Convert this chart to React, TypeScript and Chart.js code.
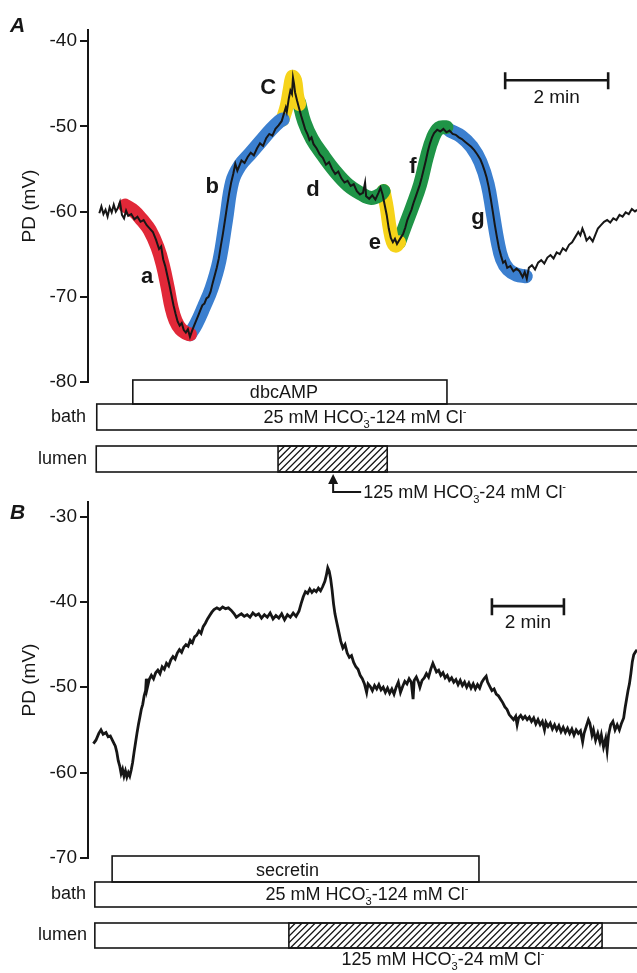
import React, { useEffect, useRef } from "react";
import { Chart, registerables } from "chart.js";
Chart.register(...registerables);

const FONT = '"Liberation Sans", Arial, Helvetica, sans-serif';
const INK = "#161616";

type Pt = [number, number];

// ---------- Panel A (time in min, PD in mV) ----------
const yTicksA = [-80, -70, -60, -50, -40];
const traceA: Pt[] = [
  [0.22,-60.2],[0.26,-59.4],[0.30,-60.3],[0.34,-59.8],[0.38,-60.6],[0.42,-59.5],[0.46,-60.1],[0.50,-59.2],[0.54,-60.0],[0.58,-59.6],
  [0.62,-58.9],[0.66,-60.4],[0.70,-60.8],[0.74,-59.9],[0.78,-60.5],[0.84,-60.3],[0.90,-60.9],[0.96,-60.6],[1.02,-61.2],[1.08,-61.0],
  [1.14,-61.6],[1.20,-62.0],[1.26,-62.4],[1.32,-63.3],[1.38,-64.4],[1.42,-64.1],[1.46,-65.6],[1.50,-66.4],[1.54,-67.5],[1.58,-68.6],
  [1.62,-69.8],[1.66,-71.0],[1.70,-72.0],[1.74,-72.9],[1.78,-73.4],[1.82,-73.1],[1.86,-73.9],[1.90,-74.2],[1.94,-73.8],[1.98,-74.7],
  [2.02,-74.0],[2.06,-73.4],[2.10,-72.8],[2.14,-72.2],[2.18,-71.6],[2.22,-71.0],[2.26,-70.8],[2.30,-70.2],[2.34,-70.0],[2.38,-69.4],
  [2.42,-68.4],[2.46,-67.5],[2.50,-66.6],[2.54,-65.5],[2.58,-64.0],[2.62,-62.6],[2.66,-61.0],[2.70,-59.4],[2.74,-57.9],[2.78,-56.6],
  [2.82,-55.6],[2.86,-54.4],[2.90,-55.2],[2.94,-54.6],[2.98,-54.0],[3.04,-54.3],[3.10,-53.6],[3.16,-53.1],[3.22,-53.4],[3.28,-52.6],
  [3.34,-52.0],[3.40,-52.3],[3.46,-51.4],[3.52,-50.9],[3.58,-51.1],[3.64,-50.3],[3.70,-49.9],[3.76,-49.4],[3.80,-48.6],[3.84,-47.8],
  [3.86,-48.3],[3.90,-46.7],[3.93,-45.8],[3.96,-46.2],[3.98,-44.3],[4.00,-45.0],[4.02,-46.0],[4.06,-47.0],[4.10,-47.9],[4.14,-48.8],
  [4.18,-49.6],[4.22,-50.4],[4.26,-50.9],[4.30,-51.6],[4.34,-51.3],[4.38,-52.1],[4.44,-52.6],[4.50,-53.3],[4.56,-53.7],[4.62,-54.5],
  [4.68,-54.2],[4.74,-55.0],[4.80,-55.6],[4.86,-55.3],[4.92,-56.1],[4.98,-56.6],[5.04,-56.4],[5.10,-57.0],[5.16,-56.8],[5.22,-57.6],
  [5.28,-58.0],[5.34,-57.8],[5.38,-56.6],[5.40,-58.2],[5.46,-58.5],[5.52,-58.1],[5.58,-58.6],[5.64,-57.8],[5.68,-57.2],[5.72,-58.0],
  [5.76,-59.2],[5.80,-60.4],[5.84,-62.0],[5.88,-63.1],[5.92,-63.6],[5.96,-63.2],[6.00,-63.8],[6.04,-63.4],[6.08,-63.0],[6.12,-62.6],
  [6.16,-61.9],[6.20,-61.0],[6.24,-60.4],[6.28,-59.8],[6.32,-59.0],[6.36,-58.3],[6.40,-57.6],[6.44,-56.9],[6.48,-56.0],[6.52,-55.0],
  [6.56,-54.0],[6.60,-52.9],[6.64,-52.0],[6.68,-51.3],[6.72,-50.8],[6.78,-50.4],[6.84,-50.6],[6.90,-50.3],[6.96,-50.7],[7.02,-50.5],
  [7.08,-50.9],[7.14,-51.0],[7.20,-51.3],[7.26,-51.5],[7.32,-51.8],[7.38,-52.1],[7.44,-52.4],[7.50,-52.8],[7.56,-53.3],[7.62,-53.9],
  [7.66,-54.5],[7.70,-55.2],[7.74,-56.0],[7.78,-57.1],[7.82,-58.5],[7.86,-60.0],[7.90,-61.6],[7.94,-63.0],[7.98,-64.3],[8.02,-65.2],
  [8.06,-66.0],[8.10,-65.8],[8.14,-66.6],[8.20,-66.4],[8.26,-67.0],[8.32,-66.7],[8.38,-67.0],[8.44,-67.7],[8.48,-67.1],[8.52,-67.9],
  [8.56,-66.6],[8.62,-66.3],[8.68,-66.8],[8.74,-66.0],[8.80,-65.7],[8.86,-66.1],[8.92,-65.4],[8.98,-65.1],[9.04,-65.5],[9.10,-64.8],
  [9.16,-65.0],[9.22,-64.3],[9.28,-64.6],[9.34,-63.9],[9.40,-63.6],[9.46,-63.0],[9.52,-62.4],[9.56,-62.8],[9.60,-62.0],[9.64,-62.6],
  [9.68,-63.4],[9.74,-63.0],[9.80,-63.5],[9.86,-62.6],[9.90,-62.0],[9.96,-61.6],[10.02,-61.2],[10.08,-61.0],[10.14,-61.3],[10.20,-60.8],
  [10.26,-61.0],[10.32,-60.4],[10.38,-60.6],[10.44,-60.1],[10.50,-60.3],[10.56,-59.7],[10.62,-60.0],[10.66,-59.8]
];

// highlighted phases of trace A
const phaseA_a: Pt[] = [[0.72,-59.3],[0.90,-60.0],[1.05,-61.0],[1.20,-62.2],[1.35,-64.2],[1.45,-66.2],[1.55,-69.0],[1.62,-71.2],[1.70,-72.8],[1.80,-73.8],[1.92,-74.3],[1.98,-74.4]];
const phaseA_b: Pt[] = [[1.98,-74.4],[2.10,-73.2],[2.25,-71.2],[2.40,-69.0],[2.55,-65.8],[2.68,-61.0],[2.80,-56.5],[2.95,-54.6],[3.15,-53.2],[3.35,-51.8],[3.55,-50.4],[3.72,-49.4],[3.78,-49.2]];
const phaseA_c: Pt[] = [[3.78,-49.2],[3.86,-47.6],[3.92,-45.6],[3.97,-44.2],[4.02,-44.6],[4.06,-46.4],[4.10,-47.4]];
const phaseA_d: Pt[] = [[4.10,-47.2],[4.20,-49.5],[4.35,-51.5],[4.55,-53.3],[4.80,-55.3],[5.05,-56.9],[5.30,-57.9],[5.50,-58.4],[5.68,-58.0],[5.74,-57.6]];
const phaseA_e: Pt[] = [[5.74,-57.6],[5.80,-59.5],[5.86,-62.0],[5.92,-63.6],[5.98,-64.0],[6.04,-63.6]];
const phaseA_f: Pt[] = [[6.04,-63.6],[6.15,-61.8],[6.30,-59.4],[6.45,-56.8],[6.58,-53.6],[6.70,-51.3],[6.82,-50.2],[6.96,-50.1]];
const phaseA_g: Pt[] = [[7.03,-50.5],[7.25,-51.2],[7.45,-52.4],[7.62,-54.2],[7.76,-56.8],[7.86,-60.2],[7.95,-63.4],[8.04,-65.6],[8.16,-66.8],[8.32,-67.4],[8.50,-67.6]];
const phaseLabelsA = ["a", "b", "C", "d", "e", "f", "g"];
const phaseLabelPosA: Pt[] = [[1.15,-67.7],[2.41,-57.1],[3.50,-45.5],[4.37,-57.5],[5.57,-63.7],[6.31,-54.8],[7.57,-60.8]];
const scaleBarA: Pt[] = [[8.10,-44.6],[10.10,-44.6]];
const dbcAMPSpan = [0.87, 6.97];
const bathStartA = 0.17;
const lumenStartA = 0.16;
const hatchSpanA = [3.69, 5.81];
const arrowTimeA = 4.76;

// ---------- Panel B ----------
const yTicksB = [-70, -60, -50, -40, -30];
const traceB: Pt[] = [
  [0.15,-56.6],[0.22,-56.2],[0.30,-55.4],[0.36,-55.0],[0.42,-55.5],[0.50,-55.3],[0.56,-55.8],[0.62,-55.7],[0.70,-56.4],[0.76,-56.9],
  [0.80,-57.6],[0.84,-58.6],[0.88,-59.2],[0.92,-60.1],[0.96,-59.6],[1.00,-60.4],[1.04,-59.8],[1.08,-60.5],[1.12,-60.0],[1.16,-60.4],
  [1.20,-59.7],[1.24,-58.8],[1.28,-57.6],[1.32,-56.5],[1.36,-55.4],[1.40,-54.4],[1.44,-53.5],[1.48,-52.6],[1.52,-52.0],[1.56,-51.0],
  [1.60,-50.4],[1.62,-49.0],[1.64,-50.2],[1.70,-49.1],[1.76,-48.6],[1.82,-49.0],[1.88,-48.3],[1.94,-48.0],[2.00,-48.4],[2.06,-47.6],
  [2.12,-47.9],[2.18,-47.2],[2.24,-47.5],[2.30,-46.8],[2.36,-46.4],[2.42,-46.7],[2.48,-46.0],[2.54,-45.6],[2.60,-45.9],[2.66,-45.3],
  [2.72,-45.0],[2.78,-45.2],[2.84,-44.5],[2.90,-44.8],[2.96,-44.1],[3.02,-43.9],[3.08,-43.4],[3.14,-43.7],[3.20,-42.9],[3.26,-42.5],
  [3.32,-42.0],[3.38,-41.6],[3.44,-41.2],[3.50,-40.9],[3.58,-40.7],[3.66,-40.9],[3.74,-40.6],[3.82,-40.8],[3.90,-40.7],[3.98,-41.0],
  [4.06,-41.4],[4.12,-41.8],[4.18,-41.6],[4.26,-41.4],[4.34,-41.7],[4.42,-41.5],[4.50,-41.8],[4.58,-41.3],[4.66,-41.6],[4.74,-41.4],
  [4.82,-41.9],[4.90,-41.5],[4.98,-41.8],[5.06,-41.3],[5.14,-42.0],[5.22,-41.6],[5.30,-41.9],[5.38,-41.4],[5.46,-42.1],[5.54,-41.5],
  [5.62,-41.8],[5.70,-41.3],[5.78,-41.7],[5.86,-41.1],[5.92,-40.2],[5.98,-39.4],[6.04,-38.8],[6.10,-39.0],[6.16,-38.5],[6.22,-38.9],
  [6.28,-38.6],[6.34,-38.8],[6.40,-38.4],[6.46,-38.7],[6.52,-38.2],[6.58,-37.6],[6.62,-36.9],[6.66,-36.0],[6.70,-36.4],[6.74,-37.3],
  [6.78,-38.6],[6.82,-40.2],[6.86,-41.4],[6.90,-42.2],[6.96,-43.4],[7.02,-44.6],[7.08,-45.4],[7.14,-45.0],[7.20,-46.0],[7.26,-46.5],
  [7.32,-46.3],[7.38,-47.1],[7.44,-47.6],[7.50,-47.9],[7.56,-48.6],[7.62,-49.0],[7.68,-49.6],[7.74,-50.6],[7.78,-49.6],[7.84,-49.9],
  [7.90,-50.4],[7.96,-49.8],[8.02,-50.2],[8.08,-49.7],[8.14,-50.3],[8.20,-50.0],[8.26,-50.6],[8.32,-50.1],[8.38,-50.7],[8.44,-50.2],
  [8.50,-50.8],[8.56,-50.0],[8.62,-49.4],[8.68,-50.6],[8.74,-49.9],[8.80,-49.3],[8.86,-49.6],[8.92,-49.0],[8.98,-49.4],[9.03,-51.4],
  [9.06,-49.2],[9.12,-48.8],[9.18,-49.4],[9.22,-50.0],[9.28,-49.2],[9.34,-48.9],[9.40,-48.4],[9.46,-48.8],[9.52,-47.9],[9.58,-47.2],
  [9.62,-47.6],[9.68,-48.2],[9.74,-48.0],[9.80,-48.6],[9.86,-48.3],[9.92,-48.9],[9.98,-48.6],[10.04,-49.2],[10.10,-48.9],[10.16,-49.4],
  [10.22,-49.1],[10.28,-49.7],[10.34,-49.2],[10.40,-49.8],[10.46,-49.4],[10.52,-50.0],[10.58,-49.5],[10.64,-50.1],[10.70,-49.6],[10.76,-50.2],
  [10.82,-49.7],[10.88,-50.1],[10.94,-49.4],[11.00,-49.0],[11.06,-48.7],[11.10,-49.4],[11.16,-49.9],[11.22,-50.4],[11.28,-50.2],[11.34,-50.8],
  [11.40,-51.0],[11.46,-51.4],[11.52,-51.8],[11.58,-52.3],[11.64,-52.6],[11.70,-53.2],[11.76,-53.5],[11.82,-53.8],[11.88,-53.4],[11.92,-54.4],
  [11.96,-53.6],[12.02,-53.3],[12.08,-53.7],[12.14,-53.4],[12.20,-53.8],[12.26,-53.5],[12.32,-54.0],[12.38,-53.6],[12.44,-54.3],[12.50,-53.8],
  [12.56,-54.4],[12.62,-54.0],[12.68,-55.0],[12.72,-54.1],[12.78,-54.6],[12.84,-54.2],[12.90,-54.9],[12.96,-54.4],[13.02,-55.0],[13.08,-54.5],
  [13.14,-55.2],[13.20,-54.7],[13.26,-55.3],[13.32,-54.8],[13.38,-55.4],[13.44,-54.9],[13.50,-55.6],[13.56,-55.0],[13.62,-55.4],[13.68,-55.1],
  [13.74,-56.4],[13.78,-55.4],[13.84,-54.6],[13.90,-53.8],[13.94,-54.2],[14.00,-55.6],[14.04,-55.0],[14.10,-56.2],[14.16,-55.4],[14.22,-56.4],
  [14.26,-55.6],[14.32,-57.0],[14.38,-56.0],[14.42,-57.4],[14.46,-55.6],[14.52,-54.4],[14.58,-54.0],[14.64,-55.0],[14.70,-54.4],[14.76,-55.0],
  [14.82,-54.2],[14.88,-53.6],[14.92,-52.4],[14.96,-51.4],[15.00,-50.4],[15.04,-49.6],[15.08,-48.4],[15.12,-47.0],[15.16,-46.2],[15.20,-45.9],
  [15.25,-45.6]
];
const scaleBarB: Pt[] = [[11.22,-40.5],[13.22,-40.5]];
const secretinSpan = [0.67, 10.86];
const bathStartB = 0.19;
const lumenStartB = 0.19;
const hatchSpanB = [5.58, 14.28];

const phaseColors = ["#e12838", "#3b7fcf", "#f6d31a", "#1f9447", "#f6d31a", "#1f9447", "#3b7fcf"];

type Part = { text: string; kind?: "sub" | "sup" };
const bathSolution: Part[] = [{ text: "25 mM HCO" }, { text: "3", kind: "sub" }, { text: "-", kind: "sup" }, { text: "-124 mM Cl" }, { text: "-", kind: "sup" }];
const highHCO3Solution: Part[] = [{ text: "125 mM HCO" }, { text: "3", kind: "sub" }, { text: "-", kind: "sup" }, { text: "-24 mM Cl" }, { text: "-", kind: "sup" }];

function drawParts(ctx: CanvasRenderingContext2D, parts: Part[], x: number, y: number, size: number, align: "left" | "center") {
  const small = size * 0.62;
  const items: { p: Part; w: number; x: number }[] = [];
  let cur = 0;
  let prevSub: { x: number; w: number } | null = null;
  for (const p of parts) {
    ctx.font = `${p.kind ? small : size}px ${FONT}`;
    const w = ctx.measureText(p.text).width;
    if (p.kind === "sup" && prevSub) {
      items.push({ p, w, x: prevSub.x });
      cur = prevSub.x + Math.max(prevSub.w, w);
      prevSub = null;
    } else {
      items.push({ p, w, x: cur });
      prevSub = p.kind === "sub" ? { x: cur, w } : null;
      cur += w;
    }
  }
  const x0 = align === "center" ? x - cur / 2 : x;
  ctx.textAlign = "left";
  ctx.textBaseline = "alphabetic";
  for (const it of items) {
    ctx.font = `${it.p.kind ? small : size}px ${FONT}`;
    const dy = it.p.kind === "sub" ? size * 0.3 : it.p.kind === "sup" ? -size * 0.42 : 0;
    ctx.fillText(it.p.text, x0 + it.x, y + dy);
  }
}

function hatchRect(ctx: CanvasRenderingContext2D, x0: number, x1: number, top: number, bottom: number) {
  ctx.save();
  ctx.beginPath();
  ctx.rect(x0, top, x1 - x0, bottom - top);
  ctx.clip();
  ctx.lineWidth = 1.3;
  const h = bottom - top;
  ctx.beginPath();
  for (let x = x0 - h; x < x1 + h; x += 6.6) {
    ctx.moveTo(x, bottom);
    ctx.lineTo(x + h, top);
  }
  ctx.stroke();
  ctx.restore();
  ctx.lineWidth = 1.6;
  ctx.strokeRect(x0, top, x1 - x0, bottom - top);
}

interface Cfg {
  letter: string;
  letterY: number;
  labels: string[];
  labelPos: Pt[];
  bar: Pt[];
  barTextDy: number;
  drugName: string;
  drugSpan: number[];
  drugTextDx: number;
  bathStart: number;
  lumenStart: number;
  hatch: number[];
  rows: { drugTop: number; bathTop: number; bathBottom: number; lumenTop: number; lumenBottom: number; noteY: number };
  arrowT: number | null;
  bathTextX: number;
  noteX: number;
}

function makeOverlay(cfg: Cfg) {
  return {
    id: "overlay" + cfg.letter,
    afterDraw(chart: any) {
      const ctx: CanvasRenderingContext2D = chart.ctx;
      const xs = chart.scales.x, ys = chart.scales.y;
      const X = (t: number) => xs.getPixelForValue(t);
      const Y = (v: number) => ys.getPixelForValue(v);
      const r = cfg.rows;
      ctx.save();
      ctx.fillStyle = INK;
      ctx.strokeStyle = INK;
      ctx.font = `italic bold 21px ${FONT}`;
      ctx.textAlign = "left";
      ctx.textBaseline = "alphabetic";
      ctx.fillText(cfg.letter, 10, cfg.letterY);
      ctx.font = `bold 22px ${FONT}`;
      ctx.textAlign = "center";
      ctx.textBaseline = "middle";
      cfg.labels.forEach((s, i) => ctx.fillText(s, X(cfg.labelPos[i][0]), Y(cfg.labelPos[i][1])));
      const bx0 = X(cfg.bar[0][0]), bx1 = X(cfg.bar[1][0]), by = Y(cfg.bar[0][1]);
      ctx.lineWidth = 2.6;
      ctx.beginPath();
      ctx.moveTo(bx0, by); ctx.lineTo(bx1, by);
      ctx.moveTo(bx0, by - 8); ctx.lineTo(bx0, by + 9);
      ctx.moveTo(bx1, by - 8); ctx.lineTo(bx1, by + 9);
      ctx.stroke();
      ctx.font = `19px ${FONT}`;
      ctx.textAlign = "center";
      ctx.textBaseline = "middle";
      ctx.fillText("2 min", (bx0 + bx1) / 2, by + cfg.barTextDy);
      ctx.lineWidth = 1.6;
      const dx0 = X(cfg.drugSpan[0]), dx1 = X(cfg.drugSpan[1]);
      ctx.strokeRect(dx0, r.drugTop, dx1 - dx0, r.bathTop - r.drugTop);
      ctx.font = `18px ${FONT}`;
      ctx.textBaseline = "alphabetic";
      ctx.fillText(cfg.drugName, (dx0 + dx1) / 2 + cfg.drugTextDx, r.bathTop - 6);
      const bathX = X(cfg.bathStart);
      ctx.strokeRect(bathX, r.bathTop, chart.width + 10 - bathX, r.bathBottom - r.bathTop);
      drawParts(ctx, bathSolution, X(cfg.bathTextX), r.bathBottom - 7, 18, "center");
      const lumX = X(cfg.lumenStart);
      ctx.strokeRect(lumX, r.lumenTop, chart.width + 10 - lumX, r.lumenBottom - r.lumenTop);
      hatchRect(ctx, X(cfg.hatch[0]), X(cfg.hatch[1]), r.lumenTop, r.lumenBottom);
      ctx.font = `18px ${FONT}`;
      ctx.textAlign = "right";
      ctx.textBaseline = "middle";
      ctx.fillText("bath", 86, (r.bathTop + r.bathBottom) / 2);
      ctx.fillText("lumen", 87, (r.lumenTop + r.lumenBottom) / 2);
      if (cfg.arrowT !== null) {
        const ax = X(cfg.arrowT);
        ctx.beginPath();
        ctx.moveTo(ax, r.lumenBottom + 2);
        ctx.lineTo(ax - 5, r.lumenBottom + 12);
        ctx.lineTo(ax + 5, r.lumenBottom + 12);
        ctx.closePath();
        ctx.fill();
        ctx.lineWidth = 2;
        ctx.beginPath();
        ctx.moveTo(ax, r.lumenBottom + 10);
        ctx.lineTo(ax, r.noteY);
        ctx.lineTo(ax + 28, r.noteY);
        ctx.stroke();
        drawParts(ctx, highHCO3Solution, ax + 30, r.noteY + 6, 18, "left");
      } else {
        drawParts(ctx, highHCO3Solution, X(cfg.noteX), r.noteY + 6, 18, "center");
      }
      ctx.restore();
    },
  };
}

function buildChart(canvas: HTMLCanvasElement, opts: {
  trace: Pt[]; traceWidth: number; phases: Pt[][]; xMax: number; yMin: number; yMax: number; ticks: number[];
  top: number; bottom: number; overlay: any;
}) {
  const datasets: any[] = [
    { data: opts.trace.map(([x, y]) => ({ x, y })), borderColor: INK, borderWidth: opts.traceWidth, pointRadius: 0, tension: 0, order: 0, borderJoinStyle: "miter" },
  ];
  opts.phases.forEach((p, i) => {
    datasets.push({
      data: p.map(([x, y]) => ({ x, y })), borderColor: phaseColors[i], borderWidth: 14, borderCapStyle: "round",
      borderJoinStyle: "round", tension: 0.4, pointRadius: 0, order: 1,
    });
  });
  return new Chart(canvas, {
    type: "line",
    data: { datasets },
    options: {
      responsive: false,
      animation: false,
      devicePixelRatio: 1,
      events: [],
      layout: { padding: { left: 0, right: 0, top: opts.top, bottom: opts.bottom } },
      plugins: { legend: { display: false }, tooltip: { enabled: false } },
      scales: {
        x: { type: "linear", min: 0, max: opts.xMax, display: false },
        y: {
          type: "linear",
          min: opts.yMin,
          max: opts.yMax,
          afterBuildTicks: (s: any) => { s.ticks = opts.ticks.map((v) => ({ value: v })); },
          afterFit: (s: any) => { s.width = 88; s.paddingTop = 0; s.paddingBottom = 0; },
          grid: { display: true, drawOnChartArea: false, drawTicks: true, tickLength: 8, color: INK, lineWidth: 2 },
          border: { display: true, color: INK, width: 2 },
          ticks: { font: { family: FONT, size: 19 }, color: INK, padding: 3 },
          title: { display: true, text: "PD (mV)", font: { family: FONT, size: 19 }, color: INK, padding: { top: 18, bottom: 0 } },
        },
      },
    } as any,
    plugins: [opts.overlay],
  });
}

export default function App() {
  const refA = useRef<HTMLCanvasElement>(null);
  const refB = useRef<HTMLCanvasElement>(null);
  useEffect(() => {
    document.body.style.margin = "0";
    const H = 973;
    const chartA = buildChart(refA.current!, {
      trace: traceA, traceWidth: 2.0,
      phases: [phaseA_a, phaseA_b, phaseA_c, phaseA_d, phaseA_e, phaseA_f, phaseA_g],
      xMax: 10.66, yMin: -80, yMax: -38.7, ticks: yTicksA, top: 30, bottom: H - 382,
      overlay: makeOverlay({
        letter: "A", letterY: 32, labels: phaseLabelsA, labelPos: phaseLabelPosA, bar: scaleBarA, barTextDy: 17,
        drugName: "dbcAMP", drugSpan: dbcAMPSpan, drugTextDx: -6, bathStart: bathStartA, lumenStart: lumenStartA,
        hatch: hatchSpanA, rows: { drugTop: 380, bathTop: 404, bathBottom: 430, lumenTop: 446, lumenBottom: 472, noteY: 492 },
        arrowT: arrowTimeA, bathTextX: 5.38, noteX: 0,
      }),
    });
    const chartB = buildChart(refB.current!, {
      trace: traceB, traceWidth: 2.8, phases: [],
      xMax: 15.25, yMin: -70, yMax: -28.3, ticks: yTicksB, top: 502, bottom: H - 858,
      overlay: makeOverlay({
        letter: "B", letterY: 519, labels: [], labelPos: [], bar: scaleBarB, barTextDy: 17,
        drugName: "secretin", drugSpan: secretinSpan, drugTextDx: -8, bathStart: bathStartB, lumenStart: lumenStartB,
        hatch: hatchSpanB, rows: { drugTop: 856, bathTop: 882, bathBottom: 907, lumenTop: 923, lumenBottom: 948, noteY: 959 },
        arrowT: null, bathTextX: 7.75, noteX: 9.86,
      }),
    });
    return () => { chartA.destroy(); chartB.destroy(); };
  }, []);
  const st: React.CSSProperties = { position: "absolute", left: 0, top: 0 };
  return (
    <div style={{ position: "relative", width: 637, height: 973, background: "#fff" }}>
      <canvas ref={refA} width={637} height={973} style={st} />
      <canvas ref={refB} width={637} height={973} style={st} />
    </div>
  );
}
